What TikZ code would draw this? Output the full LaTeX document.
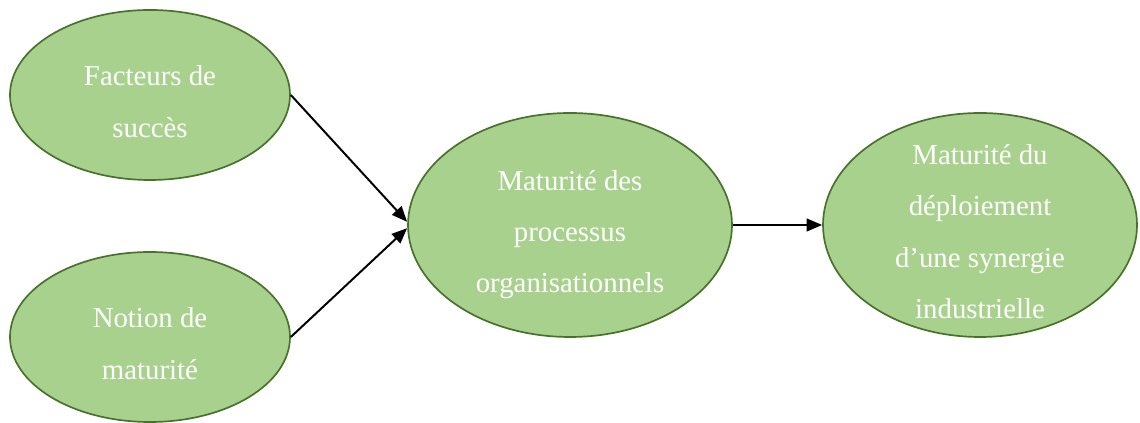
\documentclass[tikz,border=0pt]{standalone}
\usepackage{fontspec}
\setmainfont{Liberation Serif}
\usetikzlibrary{shapes.geometric,arrows.meta}
\definecolor{vertclair}{HTML}{A9D18E}
\definecolor{vertfonce}{HTML}{48722C}
\newcommand{\lignes}[1]{\raisebox{-9.6pt}[0pt][0pt]{\begin{tabular}{@{}c@{}}#1\end{tabular}}}
\tikzset{
  bulle/.style={ellipse,draw=vertfonce,line width=1.2pt,fill=vertclair,text=white,
    inner sep=0pt,font=\fontsize{20.5}{36.5}\selectfont},
  fleche/.style={-{Triangle[length=11pt,width=9pt]},line width=1.4pt,black}
}
\begin{document}
\begin{tikzpicture}
    \useasboundingbox (0,0) rectangle (28.5,10.575);
    \node[bulle,minimum width=7cm,minimum height=4.25cm] (facteurs) at (3.75,8.2) {\lignes{Facteurs de\\succès}};
    \node[bulle,minimum width=7cm,minimum height=4.25cm] (notion) at (3.75,2.15) {\lignes{Notion de\\maturité}};
    \node[bulle,minimum width=8.1cm,minimum height=5.6cm] (processus) at (14.25,4.95) {\lignes{Maturité des\\processus\\organisationnels}};
    \node[bulle,minimum width=7.85cm,minimum height=5.6cm] (synergie) at (24.5,4.95) {\lignes{Maturité du\\déploiement\\d’une synergie\\industrielle}};
    \draw[fleche] (facteurs.east) -- ([yshift=0.08cm]processus.west);
    \draw[fleche] (notion.east) -- ([yshift=-0.08cm]processus.west);
    \draw[fleche] (processus.east) -- (synergie.west);
\end{tikzpicture}
\end{document}
